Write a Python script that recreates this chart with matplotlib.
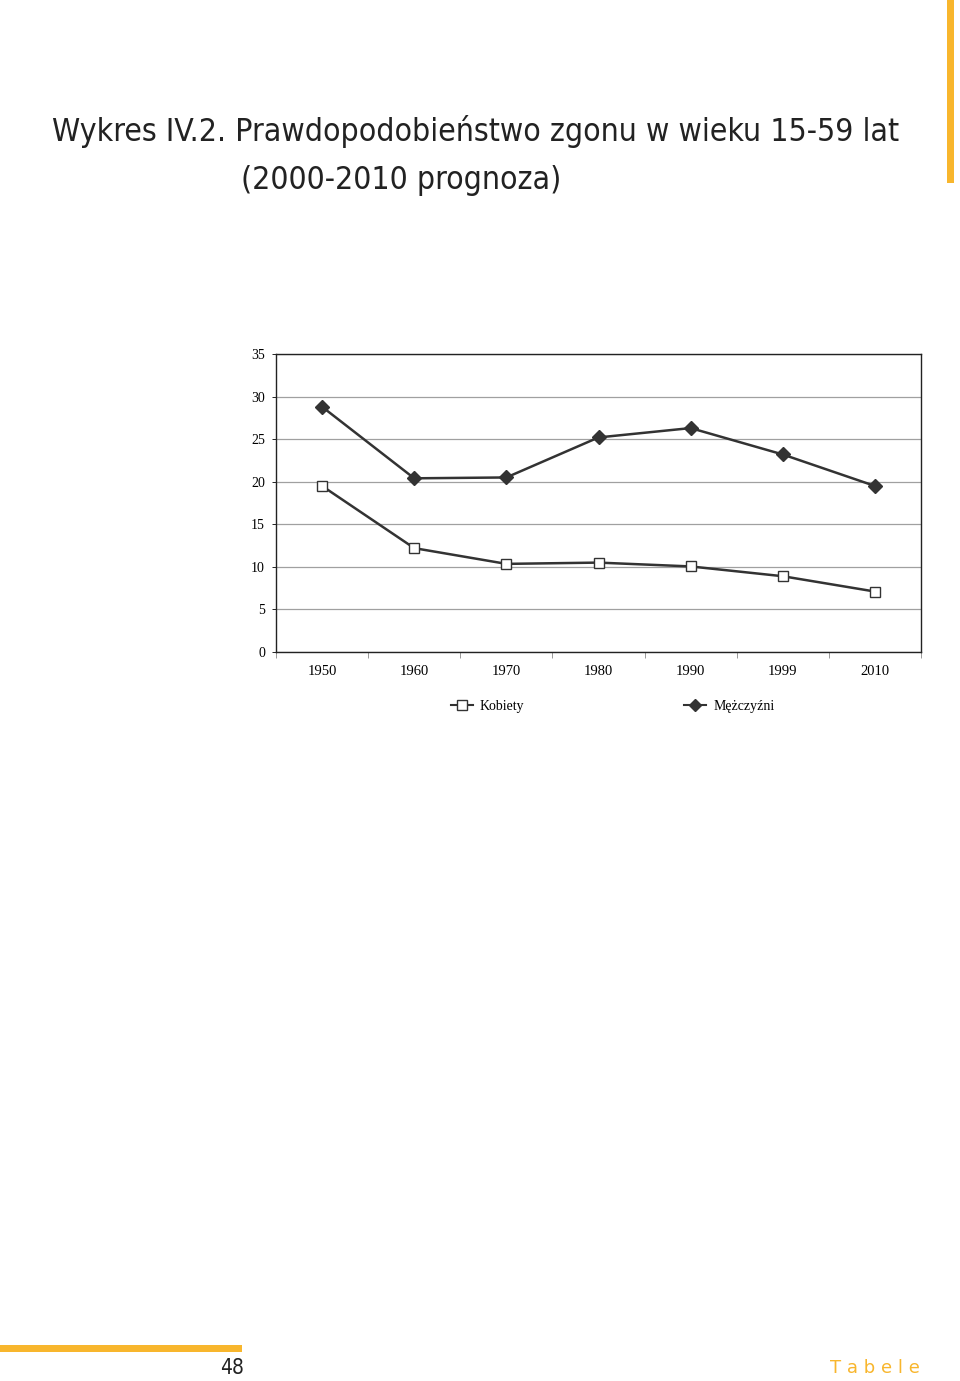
import matplotlib.pyplot as plt
from matplotlib.lines import Line2D
from matplotlib.patches import Rectangle

years = ['1950', '1960', '1970', '1980', '1990', '1999', '2010']
kobiety = [19.5, 12.2, 10.35, 10.5, 10.05, 8.9, 7.1]
mezczyzni = [28.8, 20.4, 20.5, 25.2, 26.3, 23.2, 19.5]
yticks = [0, 5, 10, 15, 20, 25, 30, 35]

orange = '#f8b62d'
serif = ['Liberation Serif', 'DejaVu Serif']
title_font = ['DejaVu Sans', 'Liberation Sans']

fig = plt.figure(figsize=(9.6, 13.81), dpi=100)
ax = fig.add_axes([276/960, 1 - 652/1381, (921-276)/960, (652-354)/1381])

x = list(range(len(years)))
ax.plot(x, mezczyzni, color='#333333', lw=1.8, marker='D', ms=7,
        mfc='#333333', mec='#333333', label='Mężczyźni', zorder=3)
ax.plot(x, kobiety, color='#333333', lw=1.8, marker='s', ms=7,
        mfc='white', mec='#333333', mew=1, label='Kobiety', zorder=3)

ax.set_xlim(-0.5, len(years) - 0.5)
ax.set_ylim(0, 35)
ax.set_yticks(yticks)
ax.set_yticklabels([str(v) for v in yticks], family=serif, fontsize=10)
ax.set_xticks(x)
ax.set_xticklabels(years, family=serif, fontsize=10.5)
ax.set_xticks([i + 0.5 for i in range(-1, len(years))], minor=True)
ax.tick_params(axis='x', which='major', length=0, pad=9)
ax.tick_params(axis='x', which='minor', length=4, width=0.6, color='#888888')
ax.tick_params(axis='y', length=3, width=0.6, pad=5)
ax.grid(axis='y', color='#a0a0a0', lw=0.9)
ax.set_axisbelow(True)
for s in ax.spines.values():
    s.set_linewidth(1)
    s.set_color('#222222')

handles = [Line2D([], [], color='#333333', lw=1.5, marker='s', ms=7, mfc='white', mec='#333333'),
           Line2D([], [], color='#333333', lw=1.5, marker='D', ms=6, mfc='#333333', mec='#333333')]
ax.legend(handles, ['Kobiety', 'Mężczyźni'], loc='upper center', bbox_to_anchor=(0.522, -0.12),
          ncol=2, frameon=False, columnspacing=11.5, handlelength=1.6, handletextpad=0.5,
          prop={'family': serif, 'size': 10})

t1 = fig.text(52/960, 1 - 132/1381, 'Wykres IV.2. Prawdopodobieństwo zgonu w wieku 15-59 lat',
              family=title_font, stretch='condensed', fontsize=27, va='center', color='#222222')
t2 = fig.text(241/960, 1 - 181/1381, '(2000-2010 prognoza)',
              family=title_font, stretch='condensed', fontsize=27, va='center', color='#222222')

# fit the title to the width it has in the reference
r = fig.canvas.get_renderer()
w = t1.get_window_extent(r).width
size = min(27, 27 * 846 / w)
t1.set_fontsize(size)
t2.set_fontsize(size)

fig.patches.append(Rectangle((947/960, 1 - 183/1381), 7/960, 183/1381,
                             transform=fig.transFigure, color=orange, lw=0))
fig.patches.append(Rectangle((0, 1 - 1352/1381), 242/960, 7/1381,
                             transform=fig.transFigure, color=orange, lw=0))
fig.text(244/960, 1 - 1368/1381, '48', ha='right', va='center',
         family=title_font, stretch='condensed', fontsize=15, color='#222222')
fig.text(920/960, 1 - 1368/1381, 'T a b e l e', ha='right', va='center',
         family=title_font, fontsize=13, color=orange)

fig.savefig('out.png', dpi=100)
